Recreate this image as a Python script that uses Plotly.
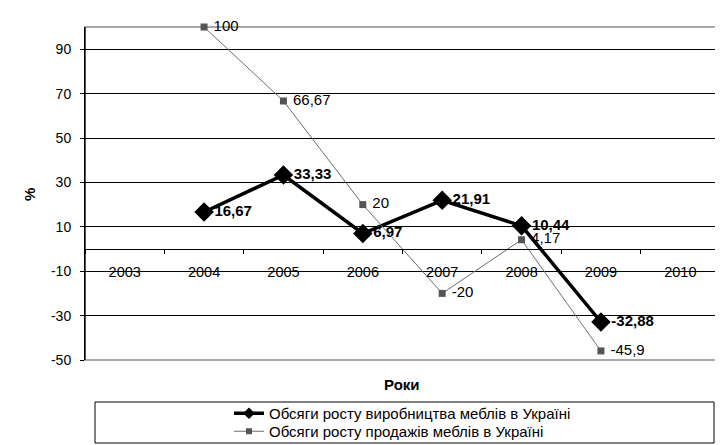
import plotly.graph_objects as go

years = ["2003", "2004", "2005", "2006", "2007", "2008", "2009", "2010"]
data_years = ["2004", "2005", "2006", "2007", "2008", "2009"]
production = [16.67, 33.33, 6.97, 21.91, 10.44, -32.88]
sales = [100, 66.67, 20, -20, 4.17, -45.9]
y_ticks = [-50, -30, -10, 10, 30, 50, 70, 90]
y_tick_labels = ["-50", "-30", "-10", "10", "30", "50", "70", "90"]
name_prod = "Обсяги росту виробництва меблів в Україні"
name_sales = "Обсяги росту продажів меблів в Україні"


def fmt(v):
    return f"{v:g}".replace(".", ",")


FONT = "Arial, Liberation Sans, sans-serif"
OFF = 8  # page body margin offset

# plot area in screen pixels
PL, PT, PR, PB = 85, 27, 720, 360
PW, PH = PR - PL, PB - PT


def px(x):
    return (x - PL) / PW


def py(y):
    return (PB - y) / PH


fig = go.Figure()
fig.add_trace(go.Scatter(
    x=data_years, y=production, name=name_prod, mode="lines+markers+text",
    line=dict(color="#000000", width=3.5),
    marker=dict(symbol="diamond", size=15, color="#000000"),
    text=[fmt(v) for v in production], textposition="middle right",
    textfont=dict(family=FONT, size=15, color="#000000", weight="bold"),
    cliponaxis=False, showlegend=False,
))
fig.add_trace(go.Scatter(
    x=data_years, y=sales, name=name_sales, mode="lines+markers+text",
    line=dict(color="#6e6e6e", width=1),
    marker=dict(symbol="square", size=7, color="#555555"),
    text=[" " + fmt(v) for v in sales], textposition="middle right",
    textfont=dict(family=FONT, size=15, color="#000000"),
    cliponaxis=False, showlegend=False,
))
# legend entries (one legend per row so the row spacing matches)
fig.add_trace(go.Scatter(
    x=[None], y=[None], name=name_prod, mode="lines+markers",
    line=dict(color="#000000", width=3.5),
    marker=dict(symbol="diamond", size=9, color="#000000"),
    legend="legend",
))
fig.add_trace(go.Scatter(
    x=[None], y=[None], name=name_sales, mode="lines+markers",
    line=dict(color="#6e6e6e", width=1),
    marker=dict(symbol="square", size=6, color="#555555"),
    legend="legend2",
))

leg_common = dict(xanchor="left", yanchor="top",
                  font=dict(family=FONT, size=15, color="#000000"),
                  bgcolor="rgba(0,0,0,0)", borderwidth=0, itemwidth=30)

W, H = 723 - OFF, 445 - OFF
fig.update_layout(
    width=W, height=H,
    margin=dict(l=PL - OFF, r=W - (PR - OFF), t=PT - OFF, b=H - (PB - OFF),
                autoexpand=False),
    paper_bgcolor="white", plot_bgcolor="white",
    font=dict(family=FONT, size=14, color="#000000"),
    showlegend=True,
    legend=dict(x=px(229), y=py(413 - 16), **leg_common),
    legend2=dict(x=px(229), y=py(431 - 16), **leg_common),
    xaxis=dict(type="category", categoryorder="array", categoryarray=years,
               range=[-0.5, 7.5], anchor="free", position=50 / 150,
               showline=True, linecolor="#000000", linewidth=1,
               ticks="outside", tickson="boundaries", ticklen=4,
               tickcolor="#000000", showgrid=False, zeroline=False,
               ticklabelstandoff=10, automargin=False,
               tickfont=dict(family=FONT, size=14.5, color="#000000")),
    yaxis=dict(range=[-50, 100], tickvals=y_ticks, ticktext=y_tick_labels,
               showgrid=True, gridcolor="#000000", gridwidth=1, zeroline=False,
               showline=True, linecolor="#000000", linewidth=1,
               ticks="outside", ticklen=4, tickcolor="#000000", automargin=False,
               ticklabelstandoff=6,
               tickfont=dict(family=FONT, size=14, color="#000000")),
)

# plot-area border (grey), outer chart border, legend box
fig.add_shape(type="rect", xref="paper", yref="paper", x0=0, x1=1, y0=0, y1=1,
              line=dict(color="#8c8c8c", width=1.5), layer="between")
fig.add_shape(type="line", xref="paper", yref="paper", x0=0, x1=0, y0=0, y1=1,
              line=dict(color="#000000", width=1), layer="between")
fig.add_shape(type="rect", xref="paper", yref="paper",
              x0=px(5), x1=px(730), y0=py(460), y1=py(2),
              line=dict(color="#000000", width=1.5))
fig.add_shape(type="rect", xref="paper", yref="paper",
              x0=px(95), x1=px(714), y0=py(443), y1=py(402),
              line=dict(color="#000000", width=1))

fig.add_annotation(text="<b>%</b>", xref="paper", yref="paper",
                   x=px(30), y=py(195), xanchor="center", yanchor="middle",
                   showarrow=False, textangle=-90,
                   font=dict(family=FONT, size=15))
fig.add_annotation(text="<b>Роки</b>", xref="paper", yref="paper",
                   x=px(402), y=py(384), xanchor="center", yanchor="middle",
                   showarrow=False, font=dict(family=FONT, size=15))

fig.write_html("out.html")
